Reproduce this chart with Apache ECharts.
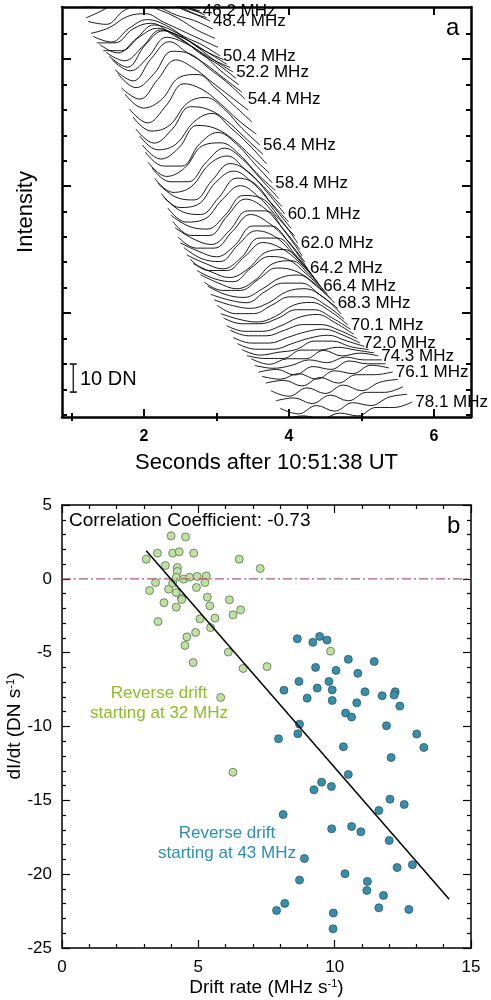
<!DOCTYPE html>
<html>
<head>
<meta charset="utf-8">
<script src="https://cdn.jsdelivr.net/npm/echarts@6/dist/echarts.min.js"></script>
<style>
  html, body { margin: 0; padding: 0; background: #fff; }
  #main { width: 491px; height: 1000px; }
</style>
</head>
<body>
<div id="main"></div>
<script>
// ---- panel a : intensity profiles, one per frequency channel ----
// time (s) of the last sample of each profile
const curveEnds = [
  2.77, 2.80, 2.84, 2.87, 2.91, 2.95, 2.98, 3.02, 3.05, 3.10, 3.14, 3.19, 3.23,
  3.27, 3.31, 3.35, 3.39, 3.44, 3.49, 3.55, 3.60, 3.64, 3.69, 3.73, 3.77,
  3.81, 3.86, 3.90, 3.94, 3.99, 4.03, 4.08, 4.12, 4.15, 4.18, 4.22, 4.25,
  4.30, 4.34, 4.39, 4.43, 4.48, 4.53, 4.58, 4.63, 4.67, 4.72, 4.76, 4.81,
  4.85, 4.89, 4.94, 4.98, 5.04, 5.10, 5.17, 5.23, 5.28, 5.33, 5.38, 5.43,
  5.50, 5.57, 5.63, 5.70
];
// stacking offset of each profile (DN)
const curveBases = [
  145.0, 144.2, 143.5, 142.6, 141.4, 138.5, 135.2, 132.0, 128.9, 127.6, 126.0, 124.8, 123.2,
  120.9, 118.6, 116.0, 113.6, 109.5, 105.3, 101.0, 97.1, 93.8, 90.4, 87.1, 83.6,
  80.9, 78.0, 75.2, 72.5, 69.8, 67.3, 64.6, 62.1, 59.8, 57.6, 55.3, 53.2,
  51.5, 49.9, 48.3, 46.8, 45.3, 43.8, 42.2, 40.7, 38.8, 36.8, 34.9, 32.9,
  31.3, 29.6, 28.0, 26.4, 25.2, 24.1, 22.9, 21.8, 20.4, 19.0, 17.5, 16.1,
  13.4, 10.8, 8.1, 5.4
];
// intensity samples (DN above the offset), 0.25 s apart
const curveProfiles = [
  [4, 7, 10, 9, 7, 5, 2, 0], [4, 8, 10, 9, 7, 4, 2, 0], [4, 6, 10, 10, 8, 5, 3, 0],
  [4, 8, 11, 10, 8, 5, 2, 0], [5, 6, 10, 11, 9, 6, 3, 0], [4, 7, 11, 11, 8, 5, 3, 0],
  [6, 5, 10, 12, 10, 7, 3, 0], [5, 7, 11, 12, 9, 6, 3, 0], [7, 5, 10, 13, 11, 7, 4, 0],
  [6, 6, 11, 13, 10, 7, 3, 0], [7, 4, 9, 14, 12, 8, 4, 0], [6, 6, 11, 14, 11, 7, 3, 0],
  [7, 4, 9, 15, 13, 9, 4, 0],
  [8, 4, 12, 17, 14, 9, 5, 0], [9, 5, 10, 17, 15, 11, 5, 0], [8, 4, 12, 18, 14, 10, 5, 0],
  [9, 4, 9, 17, 16, 11, 6, 0], [8, 4, 11, 18, 15, 10, 5, 0], [10, 5, 8, 16, 17, 12, 6, 0],
  [9, 4, 10, 18, 16, 11, 5, 0], [10, 5, 7, 15, 17, 13, 6, 0], [9, 4, 9, 17, 16, 12, 6, 0],
  [10, 5, 7, 15, 18, 13, 7, 0], [10, 5, 9, 17, 16, 12, 6, 0], [11, 6, 6, 14, 18, 14, 7, 0],
  [10, 5, 8, 16, 17, 13, 6, 0], [11, 6, 6, 13, 18, 14, 7, 0], [10, 5, 7, 15, 18, 13, 7, 0],
  [11, 6, 5, 12, 18, 15, 8, 0],
  [10, 5, 6, 14, 18, 14, 7, 0], [11, 6, 5, 11, 18, 16, 8, 0], [10, 5, 6, 13, 18, 14, 7, 0],
  [10, 6, 5, 10, 17, 16, 9, 0], [10, 5, 5, 12, 18, 15, 8, 0], [10, 6, 4, 9, 16, 16, 9, 0],
  [9, 5, 5, 11, 17, 14, 8, 0], [9, 6, 4, 8, 15, 15, 9, 0], [9, 5, 4, 10, 15, 13, 7, 0],
  [8, 5, 3, 7, 14, 14, 8, 0], [8, 4, 4, 9, 14, 12, 7, 0], [8, 5, 3, 6, 12, 13, 8, 0],
  [7, 4, 3, 8, 12, 11, 6, 0], [7, 4, 2, 5, 11, 12, 7, 0],
  [6, 3, 3, 7, 11, 10, 6, 0], [6, 3, 2, 5, 9, 10, 6, 0], [5, 3, 2, 6, 9, 9, 5, 0],
  [5, 3, 2, 4, 8, 9, 6, 0], [5, 2, 2, 5, 8, 8, 5, 0], [4, 2, 1, 3, 7, 8, 5, 0],
  [4, 2, 2, 4, 7, 7, 4, 0], [3, 1, 1, 3, 6, 7, 4, 0], [3, 1, 1, 3, 5, 5, 3, 0],
  [2, 0, 0, 2, 4, 5, 3, 0],
  [1, -1, -1, 1, 3, 4, 2, 0], [0, -2, -1, 0, 3, 3, 1, 0], [-1, -2, -2, 1, 1, 2, 1, 0],
  [-1, -3, -1, -1, 2, 0, 1, 0], [-2, -3, -2, 0, -1, 1, 0, 0], [-3, -2, -4, -1, -2, 1, 0, 0],
  [-3, -4, -2, -4, -1, -2, 1, 0], [-4, -3, -5, -2, -4, -1, -1, 0], [-4, -6, -3, -5, -2, -4, -1, 0],
  [-5, -4, -6, -3, -5, -2, -2, 0], [-5, -7, -4, -6, -3, -4, -1, 0], [-6, -5, -6, -4, -5, -2, -2, 0]
];
const profileStep = 0.25;
// every 4th channel is labelled
const freqLabels = [
  '46.2 MHz', '48.4 MHz', '50.4 MHz', '52.2 MHz', '54.4 MHz', '56.4 MHz', '58.4 MHz',
  '60.1 MHz', '62.0 MHz', '64.2 MHz', '66.4 MHz', '68.3 MHz', '70.1 MHz', '72.0 MHz',
  '74.3 MHz', '76.1 MHz', '78.1 MHz'
];
const labelEvery = 4;
const scaleBar = [[1.025, 8.9], [1.025, 18.9]]; // 10 DN

const xTicksA = [2, 4, 6];
const xMinorA = [1, 3, 5];
const yTicksA = [37.1, 82.5, 127.9];
const yMinorA = [0.9, 9.9, 19.0, 28.1, 46.2, 55.3, 64.4, 73.4, 91.6, 100.6, 109.7, 118.8, 136.9];

// ---- panel b : dI/dt vs drift rate ----
const greenPts = [
  [3.09, 1.33], [3.50, 1.74], [4.00, 2.91], [4.53, 2.84], [4.06, 1.74], [4.30, 1.83],
  [4.83, 1.74], [6.50, 1.33], [7.27, 0.70], [3.79, 0.90], [4.23, 0.77], [4.23, 0.50],
  [3.43, -0.25], [3.21, -0.79], [3.91, -0.70], [4.06, -0.29], [4.19, 0.10], [4.19, -0.93],
  [4.46, -0.02], [4.68, 0.11], [4.96, 0.16], [5.29, 0.20], [5.24, -0.25], [4.93, -0.59],
  [4.38, -1.31], [4.39, -1.40], [3.74, -1.62], [4.19, -1.92], [5.33, -1.24], [5.42, -1.83],
  [6.14, -1.42], [6.27, -2.44], [6.55, -2.10], [3.52, -2.89], [5.06, -2.71], [5.61, -2.66],
  [5.45, -3.30], [4.90, -3.63], [4.58, -3.93], [4.51, -4.51], [6.10, -4.96], [4.81, -5.67],
  [6.64, -6.07], [7.52, -5.94], [5.82, -8.03], [6.27, -13.1], [9.85, -4.9]
];
const bluePts = [
  [8.63, -4.06], [9.20, -4.30], [9.45, -3.90], [9.72, -4.15], [10.5, -5.45], [11.45, -5.6],
  [10.05, -6.2], [10.85, -6.4], [9.30, -6.0],
  [8.14, -7.54], [8.69, -6.95], [9.79, -6.95], [9.36, -7.40], [9.91, -7.52], [8.99, -8.08],
  [9.91, -8.24], [11.11, -7.65], [10.81, -8.40], [11.74, -7.92], [12.22, -7.65], [12.18, -7.87],
  [12.39, -8.62], [10.40, -9.09], [10.62, -9.36], [8.71, -9.84], [8.65, -10.49], [7.94, -10.83],
  [11.90, -9.95], [13.01, -10.51], [13.27, -11.42], [10.32, -11.37], [12.07, -12.10], [10.50, -13.25],
  [9.52, -13.77], [9.24, -14.29], [9.88, -14.06], [12.03, -14.92], [12.55, -15.28], [11.62, -15.69],
  [8.11, -15.96], [9.89, -16.93], [10.62, -16.77], [10.96, -17.13], [12.00, -17.72], [8.89, -18.94],
  [12.85, -19.36], [12.29, -19.55], [10.38, -19.97], [8.71, -20.40], [11.20, -20.49], [11.18, -21.10],
  [11.79, -21.44], [8.17, -21.98], [7.87, -22.46], [11.62, -22.28], [12.72, -22.39], [9.95, -22.63],
  [9.94, -23.70]
];
const fitLine = [[3.09, 1.9], [14.2, -21.7]];
const zeroLine = [[0, 0], [15, 0]];

const FONT = 'Liberation Sans';
var myChart = echarts.init(document.getElementById('main'), null, { renderer: 'canvas' });

// axis helper: one visible axis + mirrored / minor tick axes
function axisA(type, pos, ticks, len, opts) {
  return Object.assign({
    type: 'value', gridIndex: 0, position: pos,
    min: type === 'x' ? 0.87 : 0, max: type === 'x' ? 6.51 : 146.4,
    splitLine: { show: false },
    axisLine: { show: true, onZero: false, lineStyle: { color: '#000', width: 2.5 } },
    axisTick: { show: true, inside: true, customValues: ticks, length: len, lineStyle: { color: '#000', width: 2 } },
    axisLabel: { show: false }
  }, opts || {});
}
function axisB(type, pos, showLabel, opts) {
  return Object.assign({
    type: 'value', gridIndex: 1, position: pos,
    min: type === 'x' ? 0 : -25, max: type === 'x' ? 15 : 5, interval: 5,
    splitLine: { show: false },
    axisLine: { show: true, onZero: false, lineStyle: { color: '#000', width: 1.5 } },
    axisTick: { show: true, inside: true, length: 8, lineStyle: { color: '#000', width: 1.2 } },
    minorTick: { show: true, splitNumber: 5, length: 4, lineStyle: { color: '#000', width: 1.2 } },
    axisLabel: { show: showLabel, color: '#000', fontSize: 17, fontFamily: FONT, margin: type === 'x' ? 11 : 10 }
  }, opts || {});
}

const xAxes = [
  axisA('x', 'bottom', xTicksA, 8, {
    axisLabel: { show: true, customValues: xTicksA, color: '#000', fontSize: 16, fontWeight: 'bold', fontFamily: FONT, margin: 12 },
    name: 'Seconds after 10:51:38 UT', nameLocation: 'middle', nameGap: 35,
    nameTextStyle: { color: '#000', fontSize: 22, fontFamily: FONT }
  }),
  axisA('x', 'bottom', xMinorA, 4, { axisLine: { show: false } }),
  axisA('x', 'top', xTicksA, 8),
  axisA('x', 'top', xMinorA, 4, { axisLine: { show: false } }),
  axisB('x', 'bottom', true, {
    name: '{t|Drift rate (MHz s}{s|-1}{t|)}', nameLocation: 'middle', nameGap: 30,
    nameTextStyle: { rich: { t: { fontSize: 19, fontFamily: FONT, color: '#000' }, s: { fontSize: 11, fontFamily: FONT, color: '#000', verticalAlign: 'top', padding: [0, 0, 9, 0] } } }
  }),
  axisB('x', 'top', false)
];
const yAxes = [
  axisA('y', 'left', yTicksA, 9, {
    name: 'Intensity', nameLocation: 'middle', nameGap: 25,
    nameTextStyle: { color: '#000', fontSize: 22, fontFamily: FONT }
  }),
  axisA('y', 'left', yMinorA, 5, { axisLine: { show: false } }),
  axisA('y', 'right', yTicksA, 9),
  axisA('y', 'right', yMinorA, 5, { axisLine: { show: false } }),
  axisB('y', 'left', true),
  axisB('y', 'right', false)
];

const series = [];
curveProfiles.forEach(function (prof, i) {
  var t0 = curveEnds[i] - profileStep * (prof.length - 1);
  var data = prof.map(function (v, k) { return [t0 + k * profileStep, curveBases[i] + v]; });
  var s = {
    type: 'line', xAxisIndex: 0, yAxisIndex: 0, data: data,
    showSymbol: false, smooth: 0.4, silent: true,
    lineStyle: { color: '#000', width: 0.9 }
  };
  if (i % labelEvery === 0) {
    s.endLabel = {
      show: true, formatter: freqLabels[i / labelEvery], distance: 3,
      color: '#000', fontSize: 17, fontFamily: FONT
    };
  }
  series.push(s);
});
series.push({
  type: 'line', xAxisIndex: 0, yAxisIndex: 0, data: scaleBar, silent: true,
  symbol: 'rect', symbolSize: [7, 1.5], showSymbol: true,
  lineStyle: { color: '#000', width: 1.2 }, itemStyle: { color: '#000' }
});
series.push({
  type: 'line', xAxisIndex: 4, yAxisIndex: 4, data: zeroLine, showSymbol: false, silent: true,
  lineStyle: { color: '#b25a80', width: 1.3, type: [9, 3, 2, 3] }
});
series.push({
  type: 'scatter', xAxisIndex: 4, yAxisIndex: 4, data: greenPts, symbolSize: 8,
  itemStyle: { color: '#bde2a0', borderColor: '#5f6b58', borderWidth: 0.8, opacity: 1 }
});
series.push({
  type: 'scatter', xAxisIndex: 4, yAxisIndex: 4, data: bluePts, symbolSize: 8,
  itemStyle: { color: '#3a8ea8', borderColor: '#25586a', borderWidth: 0.8, opacity: 1 }
});
series.push({
  type: 'line', xAxisIndex: 4, yAxisIndex: 4, data: fitLine, showSymbol: false, silent: true,
  lineStyle: { color: '#000', width: 1.5 }
});

myChart.setOption({
  backgroundColor: '#fff',
  animation: false,
  grid: [
    { left: 62, top: 7, width: 409, height: 410, outerBoundsMode: 'none' },
    { left: 62, top: 505, width: 409, height: 443, outerBoundsMode: 'none' }
  ],
  xAxis: xAxes,
  yAxis: yAxes,
  series: series,
  graphic: [
    { type: 'text', left: 446, top: 16, style: { text: 'a', fontSize: 24, fontFamily: FONT, fill: '#000' } },
    { type: 'text', left: 80, top: 369, style: { text: '10 DN', fontSize: 20, fontFamily: FONT, fill: '#000' } },
    { type: 'text', left: 447, top: 514, style: { text: 'b', fontSize: 24, fontFamily: FONT, fill: '#000' } },
    { type: 'text', left: 69, top: 511, style: { text: 'Correlation Coefficient: -0.73', fontSize: 19, fontFamily: FONT, fill: '#000' } },
    {
      type: 'text', x: 15, y: 726, rotation: Math.PI / 2,
      style: {
        text: '{t|dI/dt (DN s}{s|-1}{t|)}', align: 'center', verticalAlign: 'middle',
        rich: { t: { fontSize: 19, fontFamily: FONT, fill: '#000' }, s: { fontSize: 11, fontFamily: FONT, fill: '#000', padding: [0, 0, 9, 0] } }
      }
    },
    { type: 'text', x: 159, y: 683, style: { text: 'Reverse drift\nstarting at 32 MHz', align: 'center', fontSize: 17, lineHeight: 20, fontFamily: FONT, fill: '#8fba2c' } },
    { type: 'text', x: 227, y: 823, style: { text: 'Reverse drift\nstarting at 43 MHz', align: 'center', fontSize: 17, lineHeight: 20, fontFamily: FONT, fill: '#2e8db3' } }
  ]
});
</script>
</body>
</html>
